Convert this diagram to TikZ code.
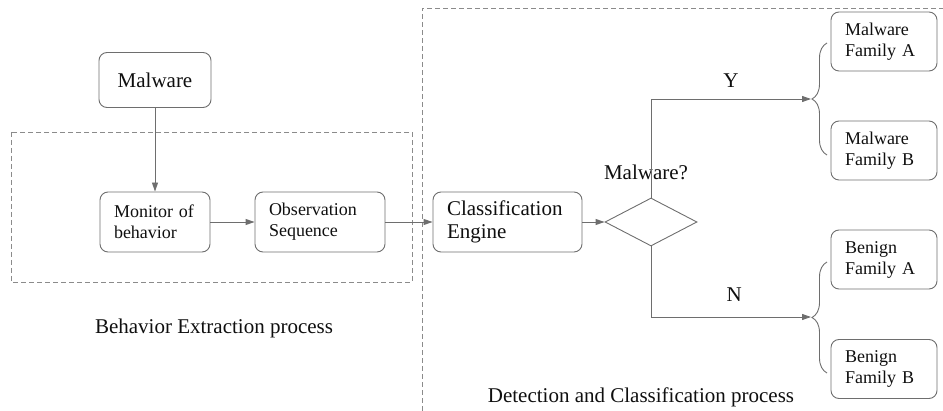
\documentclass[tikz,border=0pt]{standalone}
\usepackage{fontspec}
\setmainfont{Liberation Serif}
\usetikzlibrary{shapes.geometric,arrows.meta,decorations.pathreplacing}

\definecolor{linegray}{RGB}{110,110,110}
\definecolor{textgray}{RGB}{15,15,15}

\begin{document}
\begin{tikzpicture}[x=1pt,y=-1pt]

      % Common looks: rounded boxes, the decision diamond, dashed frames and arrows
      \tikzstyle{box}=[draw=linegray,rounded corners=8pt,line width=0.9pt,text=textgray,inner xsep=14pt,inner ysep=0pt,align=left,minimum height=60pt]
      \tikzstyle{bigbox}=[box,font=\fontsize{21}{23}\selectfont]
      \tikzstyle{smallbox}=[box,font=\fontsize{18}{21}\selectfont]
      \tikzstyle{decision}=[draw=linegray,diamond,line width=0.9pt,minimum width=92pt,minimum height=48pt,inner sep=0pt]
      \tikzstyle{frame}=[draw=linegray!80,dash pattern=on 5pt off 3pt,line width=0.8pt]
      \tikzstyle{flow}=[draw=linegray,line width=0.9pt,-{Triangle[length=9pt,width=6pt]}]
      \tikzstyle{curly}=[draw=linegray,line width=0.9pt,decorate,decoration={brace,amplitude=15pt}]
      \tikzstyle{caption}=[text=textgray,font=\fontsize{21}{23}\selectfont]

      \useasboundingbox (0,0) rectangle (943,411);

      \def\bw{106}     % Width of the family boxes on the right

      % Dashed frames around the two processes
      \draw [frame] (11,132) rectangle (412,282);
      \draw [frame] (422,411) -- (422,8) -- (950,8);

      % Boxes of the flow
      \node [bigbox,align=center,minimum width=112pt,minimum height=55pt] (malware) at (155,80) {Malware};
      \node [smallbox,text width=82pt] (monitor) at (155,222) {Monitor of\\behavior};
      \node [smallbox,text width=102pt] (observ) at (320,222) {Observation\\Sequence};
      \node [bigbox,text width=121pt] (engine) at (507.5,222) {Classification\\Engine};
      \node [decision] (decide) at (651,222) {};
      \node [caption] (question) at (646,172) {Malware?};

      % Families on the right
      \node [smallbox,text width=\bw pt-28pt,minimum height=59pt] (malA) at (884,41.5) {Malware\\Family A};
      \node [smallbox,text width=\bw pt-28pt,minimum height=59pt] (malB) at (884,150.5) {Malware\\Family B};
      \node [smallbox,text width=\bw pt-28pt,minimum height=59pt] (benA) at (884,259.5) {Benign\\Family A};
      \node [smallbox,text width=\bw pt-28pt,minimum height=59pt] (benB) at (884,369) {Benign\\Family B};

      % Brace tips that the Y and N arrows point at
      \coordinate (ytip) at (811,99);
      \coordinate (ntip) at (811,317);

      \draw [flow] (malware) -- (monitor);
      \draw [flow] (monitor) -- (observ);
      \draw [flow] (observ) -- (engine);
      \draw [flow] (engine) -- (decide);
      \draw [flow] (decide.north) |- (ytip) node [caption,pos=0.75,above=8pt] (yes) {Y};
      \draw [flow] (decide.south) |- (ntip) node [caption,pos=0.76,above=12pt] (no) {N};

      % Curly braces grouping the families
      \draw [curly] (827,155) -- (827,43);
      \draw [curly] (827,373) -- (827,262);

      % Captions of the two processes
      \node [caption] (extract) at (214,328) {Behavior Extraction process};
      \node [caption] (detect) at (641,397) {Detection and Classification process};

   \end{tikzpicture}
\end{document}
